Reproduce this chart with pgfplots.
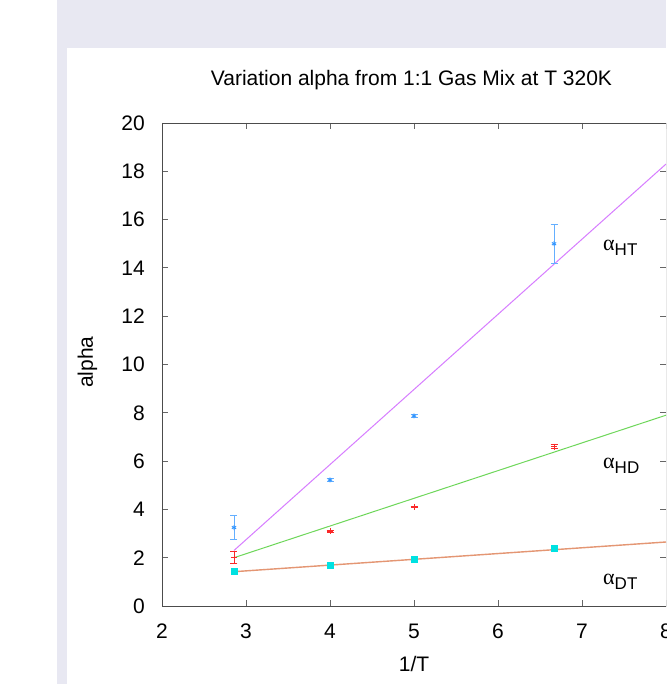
\documentclass[border=0pt]{standalone}
\usepackage{pgfplots}
\pgfplotsset{compat=1.18}
\usepackage{fontspec}
\setmainfont{Liberation Sans}
\newfontfamily\greekfont{Liberation Serif}
\definecolor{lav}{RGB}{232,232,242}
\definecolor{htblue}{RGB}{50,150,255}
\definecolor{htbar}{RGB}{100,175,255}
\definecolor{hdred}{RGB}{250,40,40}
\definecolor{dtcyan}{RGB}{0,225,225}
\definecolor{htline}{RGB}{215,125,255}
\definecolor{hdline}{RGB}{110,215,90}
\definecolor{dtline}{RGB}{228,150,115}
\begin{document}
\begin{tikzpicture}[x=1pt,y=1pt]
\useasboundingbox (0,0) rectangle (666,684);
\clip (0,0) rectangle (666,684);
\fill[white] (0,0) rectangle (666,684);
\fill[lav] (57,0) rectangle (666,684);
\fill[white] (67,0) rectangle (666,636);
\begin{axis}[
  at={(162pt,78pt)}, anchor=south west,
  scale only axis, width=504pt, height=483pt,
  xmin=2, xmax=8, ymin=0, ymax=20,
  xtick={2,...,8}, ytick={0,2,...,20},
  tick align=inside, major tick length=6pt,
  axis line style={draw=black!70, line width=0.8pt},
  tick style={draw=black!60, line width=0.8pt},
  font=\fontsize{21}{25}\selectfont,
  /pgf/number format/assume math mode=true,
  xticklabel style={anchor=north, inner sep=0pt, yshift=-18pt},
  yticklabel style={anchor=east, inner sep=0pt, xshift=-17pt},
  title={Variation alpha from 1:1 Gas Mix at T 320K},
  title style={at={(axis description cs:0.495,1.0642)}, anchor=base, inner sep=0pt},
  xlabel={1/T},
  xlabel style={at={(axis description cs:0.5,-0.1366)}, anchor=base, inner sep=0pt},
  ylabel={alpha},
  ylabel style={at={(axis description cs:-0.137,0.505)}, anchor=base, inner sep=0pt},
  clip=true,
]
% fit lines
\addplot[htline, line width=1pt] coordinates {(2.857,2.30) (8,18.30)};
\addplot[hdline, line width=1pt] coordinates {(2.857,2.00) (8,7.90)};
\addplot[dtline, line width=1.4pt] coordinates {(2.857,1.42) (8,2.65)};
% alpha HT data
\addplot[only marks, mark=asterisk, mark size=2.5pt, color=htblue, line width=0.9pt,
  error bars/.cd, y dir=both, y explicit,
  error bar style={htbar, line width=0.9pt},
  error mark options={htbar, mark size=3.5pt, line width=0.9pt, rotate=90}]
  coordinates {
  (2.857,3.25) +- (0,0.50)
  (4,5.22) +- (0,0.08)
  (5,7.87) +- (0,0.08)
  (6.667,15.00) +- (0,0.80)
};
% alpha HD data
\addplot[only marks, mark=+, mark size=3pt, color=hdred, line width=0.9pt,
  error bars/.cd, y dir=both, y explicit,
  error bar style={hdred, line width=0.9pt},
  error mark options={hdred, mark size=3.5pt, line width=0.9pt, rotate=90}]
  coordinates {
  (2.857,2.00) +- (0,0.25)
  (4,3.10) +- (0,0.04)
  (5,4.10) +- (0,0.04)
  (6.667,6.60) +- (0,0.08)
};
% alpha DT data
\addplot[only marks, mark=square*, mark size=3pt, color=dtcyan]
  coordinates {
  (2.857,1.45)
  (4,1.68)
  (5,1.92)
  (6.667,2.38)
};
\node[anchor=base west, inner sep=0pt] at (axis cs:7.25,14.74)
  {{\greekfont\fontsize{22}{26}\selectfont α}\raisebox{-5pt}{\fontsize{17}{20}\selectfont HT}};
\node[anchor=base west, inner sep=0pt] at (axis cs:7.25,5.71)
  {{\greekfont\fontsize{22}{26}\selectfont α}\raisebox{-5pt}{\fontsize{17}{20}\selectfont HD}};
\node[anchor=base west, inner sep=0pt] at (axis cs:7.25,0.87)
  {{\greekfont\fontsize{22}{26}\selectfont α}\raisebox{-5pt}{\fontsize{17}{20}\selectfont DT}};
\end{axis}
\end{tikzpicture}
\end{document}
